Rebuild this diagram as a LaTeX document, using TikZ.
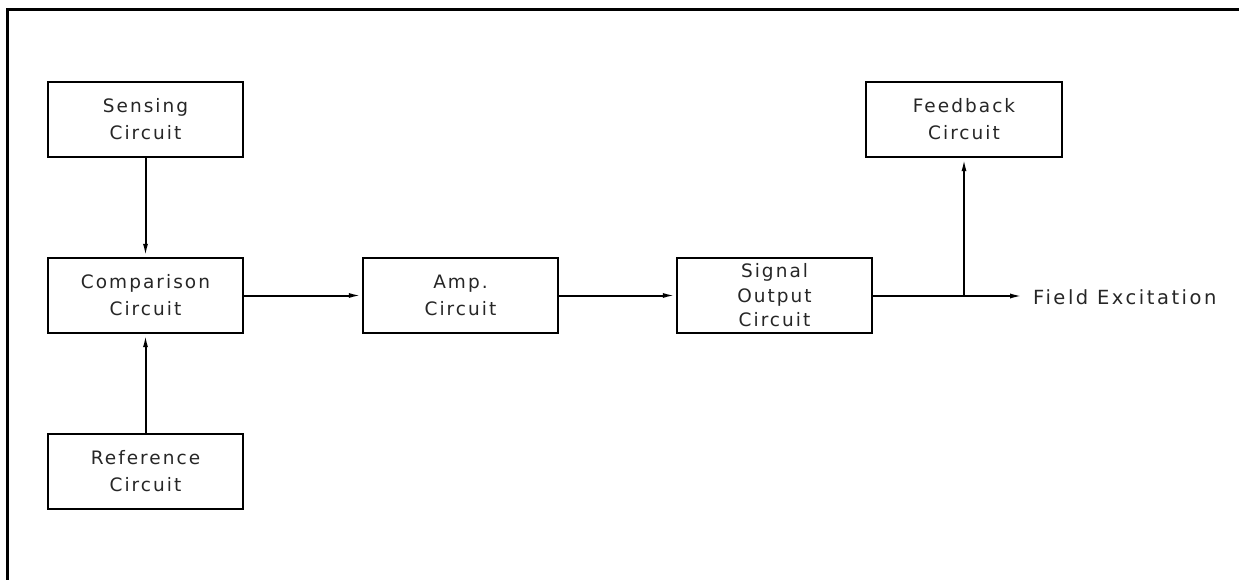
\documentclass[tikz,border=0pt]{standalone}
\usepackage{fontspec}
\setmainfont{DejaVu Sans}[LetterSpace=11]
\usetikzlibrary{arrows.meta}
\begin{document}
\begin{tikzpicture}[x=1pt,y=-1pt,
  blk/.style={draw, line width=2.4pt, minimum width=195pt, minimum height=75pt, inner sep=0pt, align=center, text=black!85, font=\fontsize{18.5}{27}\selectfont},
  conn/.style={line width=2pt, -{Latex[length=13pt,width=5pt]}},
  plain/.style={line width=2pt},
  frame/.style={line width=3pt}]
\useasboundingbox (0,0) rectangle (1239,580);
\coordinate (ftl) at (7,10);
\coordinate (ftr) at (1239,10);
\coordinate (fbl) at (7,580);
\draw[frame] (fbl) -- (ftl) -- (ftr);
\node[blk] (sens) at (145.5,119.5) {Sensing\\Circuit};
\node[blk] (comp) at (145.5,295.5) {Comparison\\Circuit};
\node[blk] (ref) at (145.5,471.5) {Reference\\Circuit};
\node[blk] (amp) at (460.5,295.5) {Amp.\\Circuit};
\node[blk, font=\fontsize{18.5}{24.5}\selectfont] (sig) at (774.5,295.5) {Signal\\Output\\Circuit};
\node[blk, minimum width=196pt] (fb) at (964,119.5) {Feedback\\Circuit};
\coordinate (junc) at (964,296);
\coordinate (fe) at (1023,296);
\node[anchor=west, inner sep=0pt, text=black!85, font=\fontsize{19.5}{24}\selectfont\addfontfeature{LetterSpace=13}] (fetext) at (1033,297) {Field Excitation};
\draw[conn] (sens) -- (comp);
\draw[conn] (ref) -- (comp);
\draw[conn] (comp) -- (amp);
\draw[conn] (amp) -- (sig);
\draw[plain] (sig.east |- junc) -- (junc);
\draw[conn] (junc) -- (fb);
\draw[conn] (junc) -- (fe);
\end{tikzpicture}
\end{document}
